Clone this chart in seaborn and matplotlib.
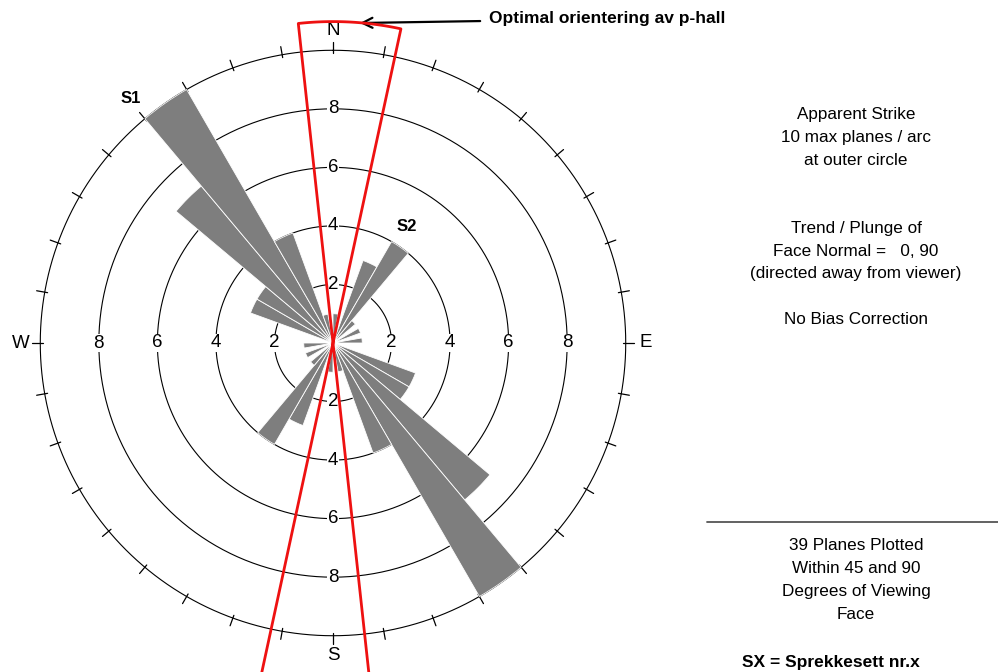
import numpy as np
import matplotlib
matplotlib.use("Agg")
import matplotlib.pyplot as plt
import seaborn as sns
from matplotlib.lines import Line2D

# Apparent strike counts per 10 degree bin (0-180), mirrored to 180-360
binStarts = [0, 10, 20, 30, 40, 50, 60, 70, 80, 90, 100, 110, 120, 130, 140, 150, 160, 170]
binCounts = [1, 0, 3, 4, 1, 0, 1, 0, 1, 0, 0, 3, 3, 7, 10, 4, 1, 0]
ringValues = [2, 4, 6, 8]
outerValue = 10
compassLabels = ['N', 'E', 'S', 'W']
compassAngles = [0, 90, 180, 270]
wedgeLeft = -6.2   # optimal orientation wedge edges (deg)
wedgeRight = 12.2
setLabels = ['S1', 'S2']

infoTop = ['Apparent Strike', '10 max planes / arc', 'at outer circle', '',
           '', 'Trend / Plunge of', 'Face Normal =   0, 90',
           '(directed away from viewer)', '', 'No Bias Correction']
infoBottom = ['39 Planes Plotted', 'Within 45 and 90', 'Degrees of Viewing', 'Face']

sns.set_theme(style="white")
plt.rcParams['font.family'] = ['Liberation Sans', 'DejaVu Sans']
plt.rcParams['text.color'] = 'black'

W, H = 998, 672
fig = plt.figure(figsize=(W / 100, H / 100), dpi=100)
fig.patch.set_facecolor('white')

cx, cy, rpx = 333, 343, 322
ax = fig.add_axes([(cx - rpx) / W, (H - cy - rpx) / H, 2 * rpx / W, 2 * rpx / H],
                  projection='polar')
ax.set_theta_zero_location('N')
ax.set_theta_direction(-1)
ax.set_ylim(0, 11)
ax.grid(False)
ax.set_xticks([])
ax.set_yticks([])
ax.spines['polar'].set_visible(False)
ax.set_facecolor('none')

# petals, drawn both ways (on top of the rings)
theta = np.deg2rad(np.array(binStarts) + 5)
counts = np.array(binCounts)
for off in [0, np.pi]:
    ax.bar(theta + off, counts, width=np.deg2rad(10), bottom=0,
           color='#7e7e7e', edgecolor='white', linewidth=0.6, zorder=3)

# rings
circ = np.linspace(0, 2 * np.pi, 721)
for r in ringValues + [outerValue]:
    ax.plot(circ, np.full_like(circ, r), color='black', lw=0.8, zorder=2)

# ticks on outer circle
for a in range(0, 360, 10):
    t = np.deg2rad(a)
    ax.plot([t, t], [9.9, 10.28], color='black', lw=0.9, zorder=2, clip_on=False)

# ring labels
for r in ringValues:
    for a in compassAngles:
        ax.text(np.deg2rad(a), r, str(r), ha='center', va='center', fontsize=13.5,
                zorder=4, bbox=dict(fc='white', ec='none', pad=0.6))

for lab, a in zip(compassLabels, compassAngles):
    ax.text(np.deg2rad(a), 10.68, lab, ha='center', va='center', fontsize=13.5, zorder=4)

# optimal orientation wedge
tl, tr = np.deg2rad(wedgeLeft), np.deg2rad(wedgeRight)
arc = np.linspace(tl, tr, 40)
wt = np.concatenate([[tl + np.pi, tl + np.pi, tl], arc, [tr, tr + np.pi]])
wr = np.concatenate([[12.5, 0, 0], np.full_like(arc, 10.98), [0, 12.5]])
ax.plot(wt, wr, color='#ee1111', lw=2, zorder=5, clip_on=False)

# set labels
ax.text(np.deg2rad(320.4), 10.86, setLabels[0], ha='center', va='center',
        fontsize=12, fontweight='bold', zorder=4)
ax.text(np.deg2rad(32.3), 4.72, setLabels[1], ha='center', va='center',
        fontsize=12, fontweight='bold', zorder=4)

# arrow to wedge
ax.annotate('Optimal orientering av p-hall', xy=(360 / W, 1 - 23 / H),
            xycoords='figure fraction', xytext=(489 / W, 1 - 19 / H),
            textcoords='figure fraction', ha='left', va='center',
            fontsize=12.5, fontweight='bold', annotation_clip=False,
            arrowprops=dict(arrowstyle='->', lw=1.6, color='black',
                            shrinkA=4, shrinkB=0, mutation_scale=18))

# info text on the right
tx = 856 / W
for i, line in enumerate(infoTop):
    if line:
        fig.text(tx, 1 - (115 + i * 22.7) / H, line, ha='center', va='center', fontsize=12.3)
for i, line in enumerate(infoBottom):
    fig.text(tx, 1 - (545 + i * 23.3) / H, line, ha='center', va='center', fontsize=12.3)

fig.add_artist(Line2D([707 / W, 1.0], [1 - 521.5 / H] * 2, color='#555555', lw=1.3))
fig.text(742 / W, 1 - 662 / H, 'SX = Sprekkesett nr.x', ha='left', va='center',
         fontsize=12.5, fontweight='bold')

fig.savefig('out.png', dpi=100, facecolor='white')
